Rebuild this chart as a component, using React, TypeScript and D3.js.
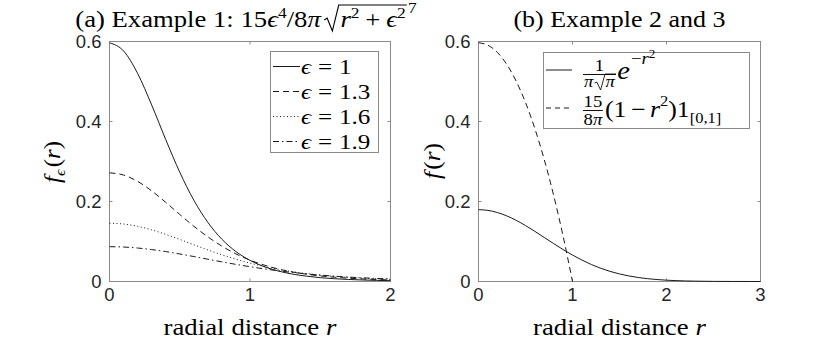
import React, { useRef, useEffect } from 'react';
import * as d3 from 'd3';

const W = 839;
const H = 345;

// panel (a): f_eps(r) sampled at r = 0, 0.1, ..., 2
const rA = [0, 0.1, 0.2, 0.3, 0.4, 0.5, 0.6, 0.7, 0.8, 0.9, 1, 1.1, 1.2, 1.3, 1.4, 1.5, 1.6, 1.7, 1.8, 1.9, 2];
const eps10 = [0.5968, 0.5764, 0.5202, 0.4414, 0.355, 0.2733, 0.2034, 0.1478, 0.1056, 0.0748, 0.0528, 0.0372, 0.0263, 0.0187, 0.0134, 0.0096, 0.007, 0.0051, 0.0038, 0.0028, 0.0021];
const eps13 = [0.2717, 0.2662, 0.2503, 0.2266, 0.198, 0.1676, 0.1382, 0.1115, 0.0883, 0.069, 0.0534, 0.0411, 0.0314, 0.024, 0.0183, 0.014, 0.0108, 0.0083, 0.0064, 0.005, 0.0039];
const eps16 = [0.1457, 0.1437, 0.138, 0.1291, 0.1178, 0.1052, 0.0919, 0.0789, 0.0667, 0.0557, 0.0459, 0.0376, 0.0306, 0.0247, 0.0199, 0.016, 0.0129, 0.0103, 0.0083, 0.0067, 0.0054];
const eps19 = [0.087, 0.0862, 0.0837, 0.0798, 0.0748, 0.0688, 0.0624, 0.0557, 0.0491, 0.0428, 0.037, 0.0316, 0.0269, 0.0227, 0.0191, 0.016, 0.0133, 0.0111, 0.0092, 0.0077, 0.0064];
const epsLabels = ['1', '1.3', '1.6', '1.9'];
const dashA = ['', '6,4', '1,2.5', '6,3,1.5,3'];

// panel (b)
const rB = [0, 0.1, 0.2, 0.3, 0.4, 0.5, 0.6, 0.7, 0.8, 0.9, 1, 1.1, 1.2, 1.3, 1.4, 1.5, 1.6, 1.7, 1.8, 1.9, 2, 2.1, 2.2, 2.3, 2.4, 2.5, 2.6, 2.7, 2.8, 2.9, 3];
const gauss = [0.1796, 0.1778, 0.1725, 0.1641, 0.153, 0.1399, 0.1253, 0.11, 0.0947, 0.0799, 0.0661, 0.0536, 0.0425, 0.0331, 0.0253, 0.0189, 0.0139, 0.01, 0.007, 0.0049, 0.0033, 0.0022, 0.0014, 0.0009, 0.0006, 0.0003, 0.0002, 0.0001, 0.0001, 0, 0];
const rC = [0, 0.1, 0.2, 0.3, 0.4, 0.5, 0.6, 0.7, 0.8, 0.9, 1];
const compact = [0.5968, 0.5908, 0.5729, 0.5431, 0.5013, 0.4476, 0.382, 0.3044, 0.2148, 0.1134, 0];

const yTicks = [0, 0.2, 0.4, 0.6];
const xTicksA = [0, 1, 2];
const xTicksB = [0, 1, 2, 3];

const SERIF = "'Liberation Serif', 'DejaVu Serif', serif";
const SANS = "'Liberation Sans', Arial, sans-serif";
const FRAME = '#8a8a8a';
const INK = '#1a1a1a';
const SX = 1.14; // LaTeX's Computer Modern runs wider than Times

type Piece = { t?: string; it?: boolean; fs?: number; dy?: number; gap?: number; mark?: string };

function mathRow(parent: any, pieces: Piece[], fs: number) {
  const g = parent.append('g');
  const inner = g.append('g');
  let x = 0;
  const marks: Record<string, number> = {};
  for (const p of pieces) {
    if (p.mark) marks[p.mark] = x;
    if (p.gap) x += p.gap;
    if (p.t) {
      const t = inner.append('text')
        .attr('x', x).attr('y', p.dy || 0)
        .attr('font-family', SERIF)
        .attr('font-size', p.fs || fs)
        .attr('font-style', p.it ? 'italic' : 'normal')
        .attr('fill', '#000')
        .text(p.t);
      x += (t.node() as SVGTextElement).getComputedTextLength();
    }
  }
  return { g, inner, width: x, marks };
}

// place a row: anchor 'start' | 'middle', horizontally stretched by sx
function place(row: any, x: number, y: number, anchor: string, sx = SX, rot = false) {
  const off = anchor === 'middle' ? -row.width / 2 : 0;
  const r = rot ? ' rotate(-90)' : '';
  row.g.attr('transform', `translate(${x},${y})${r} scale(${sx},1) translate(${off},0)`);
}

function drawPanel(svg: any, o: any) {
  const x = d3.scaleLinear().domain([0, o.xMax]).range([o.x0, o.x1]);
  const y = d3.scaleLinear().domain([0, 0.6]).range([o.y1, o.y0]);
  const g = svg.append('g');

  g.append('rect')
    .attr('x', o.x0).attr('y', o.y0)
    .attr('width', o.x1 - o.x0).attr('height', o.y1 - o.y0)
    .attr('fill', 'none').attr('stroke', FRAME).attr('stroke-width', 1);

  o.xTicks.forEach((v: number) => {
    g.append('line').attr('x1', x(v)).attr('x2', x(v)).attr('y1', o.y1).attr('y2', o.y1 - 3).attr('stroke', FRAME);
    g.append('line').attr('x1', x(v)).attr('x2', x(v)).attr('y1', o.y0).attr('y2', o.y0 + 3).attr('stroke', FRAME);
    g.append('text').attr('x', x(v)).attr('y', o.y1 + 19)
      .attr('text-anchor', 'middle').attr('font-family', SANS).attr('font-size', 18.5).attr('fill', '#262626')
      .text(String(v));
  });
  yTicks.forEach((v) => {
    g.append('line').attr('x1', o.x0).attr('x2', o.x0 + 3).attr('y1', y(v)).attr('y2', y(v)).attr('stroke', FRAME);
    g.append('line').attr('x1', o.x1).attr('x2', o.x1 - 3).attr('y1', y(v)).attr('y2', y(v)).attr('stroke', FRAME);
    g.append('text').attr('x', o.x0 - 8).attr('y', y(v)).attr('dy', '0.35em')
      .attr('text-anchor', 'end').attr('font-family', SANS).attr('font-size', 18.5).attr('fill', '#262626')
      .text(String(v));
  });

  o.series.forEach((s: any) => {
    const l = d3.line<number>()
      .x((_, i) => x(s.r[i]))
      .y((d) => y(d))
      .curve(d3.curveMonotoneX);
    g.append('path').datum(s.v)
      .attr('fill', 'none').attr('stroke', INK).attr('stroke-width', 1)
      .attr('stroke-dasharray', s.dash || null)
      .attr('d', l);
  });

  const xl = mathRow(g, [{ t: 'radial' }, { gap: 6 }, { t: 'distance' }, { gap: 6 }, { t: 'r', it: true }], 23.5);
  place(xl, (o.x0 + o.x1) / 2, 335, 'middle');

  return { x, y };
}

const App = () => {
  const svgRef = useRef<SVGSVGElement>(null);

  useEffect(() => {
    const svg = d3.select(svgRef.current);
    svg.selectAll('*').remove();
    svg.append('rect').attr('width', W).attr('height', H).attr('fill', '#fff');

    // ---- panel (a)
    const pa = { x0: 109.5, x1: 390.5, y0: 41.5, y1: 281.5 };
    drawPanel(svg, {
      ...pa, xMax: 2, xTicks: xTicksA,
      series: [eps10, eps13, eps16, eps19].map((v, i) => ({ r: rA, v, dash: dashA[i] })),
    });

    const ta = mathRow(svg, [
      { t: '(a) Example 1: 15' }, { t: 'ϵ', it: true }, { t: '4', fs: 15, dy: -9 },
      { t: '/8' }, { t: 'π', it: true }, { gap: 2 }, { mark: 'r0', gap: 15 },
      { t: 'r', it: true }, { t: '2', fs: 15, dy: -9 }, { gap: 5 }, { t: '+' }, { gap: 5 },
      { t: 'ϵ', it: true }, { t: '2', fs: 15, dy: -9 }, { mark: 'r1', gap: 2 }, { t: '7', fs: 15, dy: -14 },
    ], 23);
    const r0 = ta.marks.r0, r1 = ta.marks.r1;
    ta.inner.append('path')
      .attr('d', `M${r0 + 1},-7 L${r0 + 3.5},-9 L${r0 + 8},4 L${r0 + 13.5},-22 H${r1 + 1}`)
      .attr('fill', 'none').attr('stroke', '#000').attr('stroke-width', 1);
    place(ta, 246, 27, 'middle', 1.16);

    const ya = mathRow(svg, [
      { t: 'f', it: true }, { t: 'ϵ', it: true, fs: 15, dy: 5 }, { gap: 2 },
      { t: '(' }, { t: 'r', it: true }, { t: ')' },
    ], 23);
    place(ya, 60, 162, 'middle', 1.08, true);

    // legend (a)
    const la = svg.append('g');
    la.append('rect').attr('x', 270.5).attr('y', 51.5).attr('width', 108).attr('height', 101)
      .attr('fill', '#fff').attr('stroke', FRAME);
    epsLabels.forEach((lab, i) => {
      const cy = 66.5 + i * 25;
      la.append('line').attr('x1', 273).attr('x2', 300).attr('y1', cy).attr('y2', cy)
        .attr('stroke', INK).attr('stroke-dasharray', dashA[i] || null);
      const row = mathRow(la, [{ t: 'ϵ', it: true }, { gap: 6 }, { t: '=' }, { gap: 6 }, { t: lab }], 22);
      place(row, 301, cy + 7, 'start', 1.14);
    });

    // ---- panel (b)
    const pb = { x0: 478.5, x1: 760.5, y0: 41.5, y1: 281.5 };
    drawPanel(svg, {
      ...pb, xMax: 3, xTicks: xTicksB,
      series: [
        { r: rB, v: gauss, dash: '' },
        { r: rC, v: compact, dash: '6,4' },
      ],
    });

    const tb = mathRow(svg, [{ t: '(b) Example 2 and 3' }], 23);
    place(tb, 619.5, 27, 'middle', 1.13);

    const yb = mathRow(svg, [{ t: 'f', it: true }, { gap: 2 }, { t: '(' }, { t: 'r', it: true }, { t: ')' }], 23);
    place(yb, 440, 161, 'middle', 1.1, true);

    // legend (b)
    const lb = svg.append('g');
    lb.append('rect').attr('x', 543.5).attr('y', 52.5).attr('width', 206).attr('height', 76)
      .attr('fill', '#fff').attr('stroke', FRAME);
    lb.append('line').attr('x1', 546).attr('x2', 572).attr('y1', 70).attr('y2', 70).attr('stroke', INK);
    lb.append('line').attr('x1', 546).attr('x2', 572).attr('y1', 108).attr('y2', 108)
      .attr('stroke', INK).attr('stroke-dasharray', '5,4');

    // content in a local frame starting at x=583, stretched like CM
    const lc = lb.append('g').attr('transform', `translate(583,0) scale(1.1,1)`);

    // row 1: 1/(pi sqrt pi) e^{-r^2}
    const den1 = mathRow(lc, [{ t: 'π', it: true }, { gap: 1 }, { mark: 's0', gap: 10 }, { t: 'π', it: true }, { mark: 's1' }], 17);
    const fw1 = den1.width + 2;
    den1.g.attr('transform', `translate(1,87)`);
    const s0 = den1.marks.s0, s1 = den1.marks.s1;
    den1.inner.append('path')
      .attr('d', `M${s0},-4 L${s0 + 2},-5 L${s0 + 5.5},3 L${s0 + 9.5},-13 H${s1 + 1}`)
      .attr('fill', 'none').attr('stroke', '#000').attr('stroke-width', 0.8);
    const num1 = mathRow(lc, [{ t: '1' }], 17);
    num1.g.attr('transform', `translate(${fw1 / 2 - num1.width / 2},71)`);
    lc.append('line').attr('x1', 0).attr('x2', fw1).attr('y1', 74.5).attr('y2', 74.5)
      .attr('stroke', '#000').attr('stroke-width', 0.9);
    const ex = mathRow(lc, [
      { t: 'e', it: true }, { gap: 1 }, { t: '−', fs: 17, dy: -15 }, { t: 'r', it: true, fs: 17, dy: -15 }, { t: '2', fs: 12, dy: -21 },
    ], 26);
    ex.g.attr('transform', `translate(${fw1 + 1},79)`);

    // row 2: 15/(8 pi) (1 - r^2) 1_[0,1]
    const num2 = mathRow(lc, [{ t: '15' }], 17);
    const den2 = mathRow(lc, [{ t: '8' }, { t: 'π', it: true }], 17);
    const fw2 = Math.max(num2.width, den2.width) + 1;
    num2.g.attr('transform', `translate(${fw2 / 2 - num2.width / 2},107)`);
    den2.g.attr('transform', `translate(${fw2 / 2 - den2.width / 2},124.5)`);
    lc.append('line').attr('x1', 0).attr('x2', fw2).attr('y1', 110.5).attr('y2', 110.5)
      .attr('stroke', '#000').attr('stroke-width', 0.9);
    const body2 = mathRow(lc, [
      { t: '(1' }, { gap: 4 }, { t: '−' }, { gap: 4 }, { t: 'r', it: true }, { t: '2', fs: 15, dy: -11 },
      { t: ')1' }, { t: '[0,1]', fs: 15, dy: 6 },
    ], 23.5);
    body2.g.attr('transform', `translate(${fw2 + 2},117)`);
  }, []);

  return (
    <svg
      ref={svgRef}
      width={W}
      height={H}
      style={{ position: 'absolute', left: 0, top: 0, background: '#fff' }}
    />
  );
};

export default App;
